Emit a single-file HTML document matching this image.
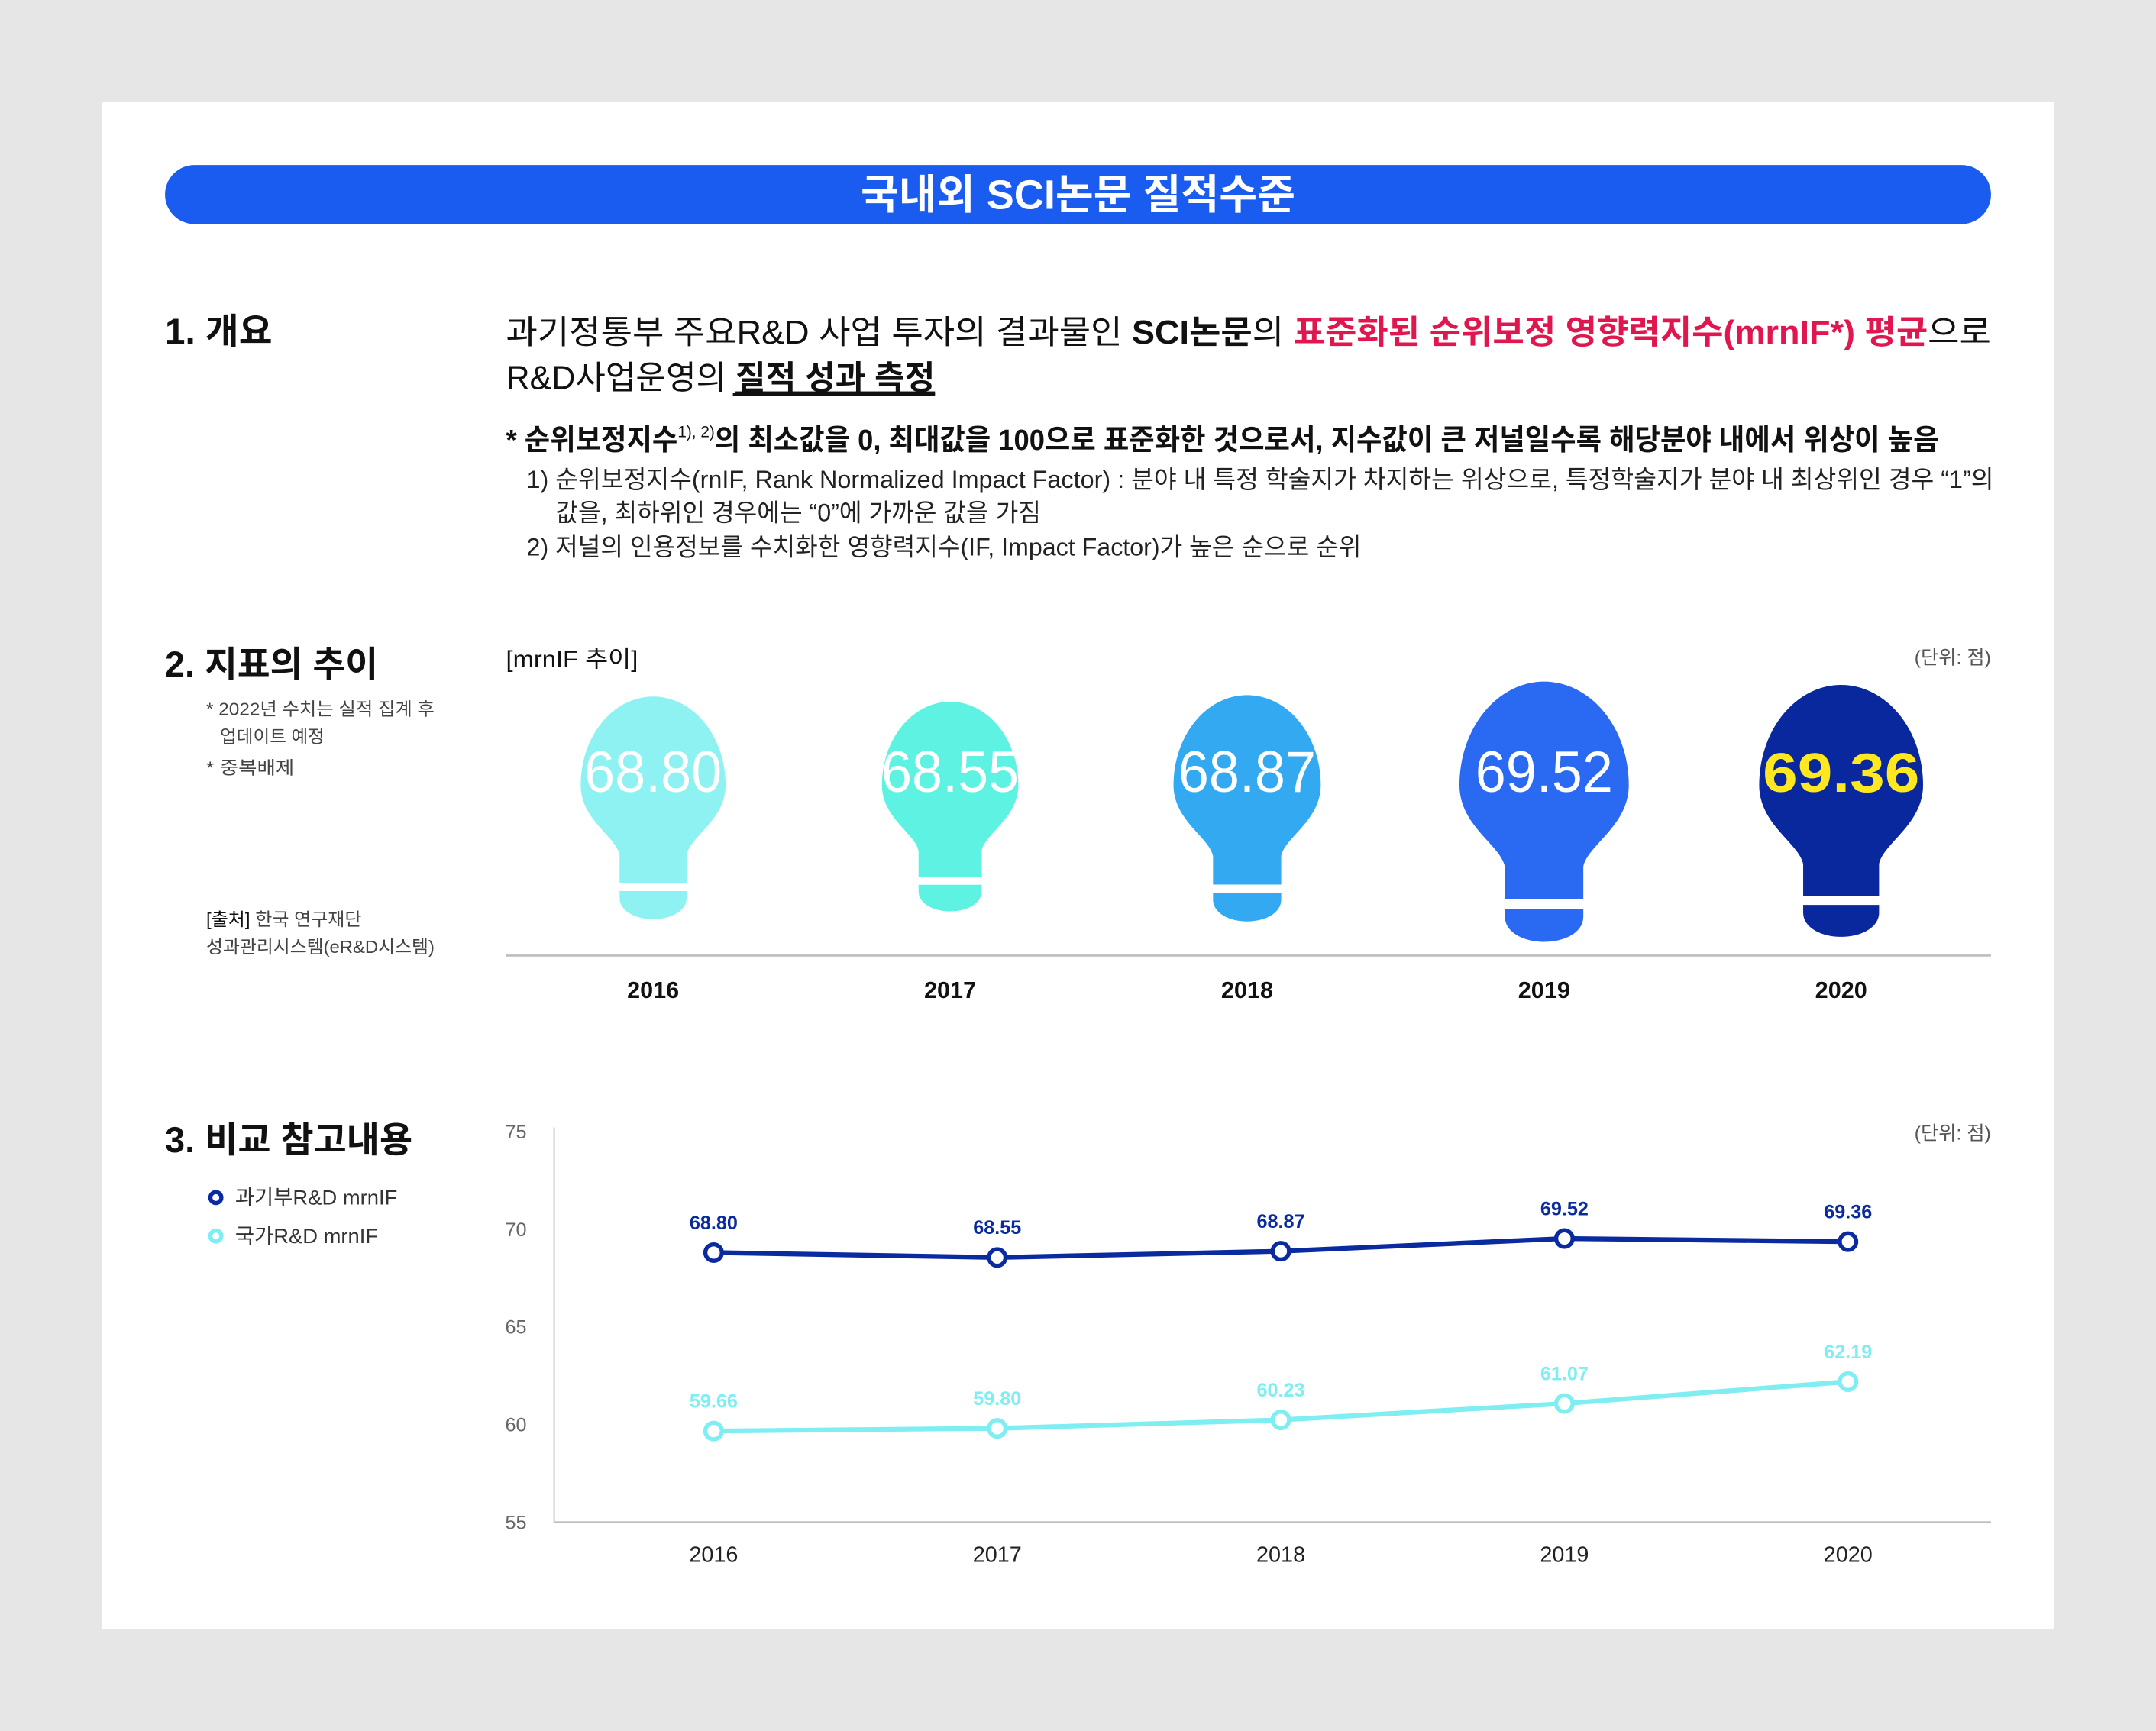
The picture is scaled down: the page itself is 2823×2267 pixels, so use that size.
<!DOCTYPE html>
<html><head><meta charset="utf-8">
<style>
html,body{margin:0;padding:0;background:#e6e6e6;}
body{width:2823px;height:2267px;overflow:hidden;}
svg{display:block;font-family:"Liberation Sans","Noto Sans CJK KR",sans-serif;}
</style></head>
<body>
<svg id="page" width="2823" height="2267" viewBox="0 0 1568 1259" preserveAspectRatio="none" xmlns="http://www.w3.org/2000/svg">
<rect x="0" y="0" width="1568" height="1259" fill="#e6e6e6"/>
<rect x="74" y="74" width="1420" height="1111" fill="#ffffff"/>
<rect x="120" y="120" width="1328" height="43" rx="21.5" fill="#1b5cf0"/>
<text x="784" y="152" text-anchor="middle" font-size="30" font-weight="bold" fill="#fff" textLength="316" lengthAdjust="spacingAndGlyphs">국내외 SCI논문 질적수준</text>

<text x="120" y="250" font-size="26" font-weight="bold" fill="#111" textLength="78" lengthAdjust="spacingAndGlyphs">1. 개요</text>
<text x="368" y="250" font-size="24" fill="#111" textLength="1080" lengthAdjust="spacingAndGlyphs">과기정통부 주요R&amp;D 사업 투자의 결과물인 <tspan font-weight="bold">SCI논문</tspan>의 <tspan font-weight="bold" fill="#e0174f">표준화된 순위보정 영향력지수(mrnIF*) 평균</tspan>으로</text>
<text x="368" y="283" font-size="24" fill="#111" textLength="312" lengthAdjust="spacingAndGlyphs">R&amp;D사업운영의 <tspan font-weight="bold" text-decoration="underline">질적 성과 측정</tspan></text>
<line x1="533" y1="287" x2="680" y2="287" stroke="#111" stroke-width="2"/>
<text x="368" y="327" font-size="21" font-weight="bold" fill="#111" textLength="1042" lengthAdjust="spacingAndGlyphs">* 순위보정지수<tspan font-size="12" dy="-9" font-weight="normal">1), 2)</tspan><tspan dy="9">의 최소값을 0, 최대값을 100으로 표준화한 것으로서, 지수값이 큰 저널일수록 해당분야 내에서 위상이 높음</tspan></text>
<text x="383" y="355" font-size="18" fill="#222" textLength="1067" lengthAdjust="spacingAndGlyphs">1) 순위보정지수(rnIF, Rank Normalized Impact Factor) : 분야 내 특정 학술지가 차지하는 위상으로, 특정학술지가 분야 내 최상위인 경우 “1”의</text>
<text x="404" y="379" font-size="18" fill="#222" textLength="353" lengthAdjust="spacingAndGlyphs">값을, 최하위인 경우에는 “0”에 가까운 값을 가짐</text>
<text x="383" y="404" font-size="18" fill="#222" textLength="607" lengthAdjust="spacingAndGlyphs">2) 저널의 인용정보를 수치화한 영향력지수(IF, Impact Factor)가 높은 순으로 순위</text>

<text x="120" y="492" font-size="26" font-weight="bold" fill="#111" textLength="155" lengthAdjust="spacingAndGlyphs">2. 지표의 추이</text>
<text x="150" y="520" font-size="13" fill="#444" textLength="166" lengthAdjust="spacingAndGlyphs">* 2022년 수치는 실적 집계 후</text>
<text x="160" y="540" font-size="13" fill="#444" textLength="76" lengthAdjust="spacingAndGlyphs">업데이트 예정</text>
<text x="150" y="563" font-size="13" fill="#444" textLength="64" lengthAdjust="spacingAndGlyphs">* 중복배제</text>
<text x="150" y="673" font-size="13" fill="#444" textLength="113" lengthAdjust="spacingAndGlyphs"><tspan fill="#111">[출처]</tspan> 한국 연구재단</text>
<text x="150" y="693" font-size="13" fill="#444" textLength="166" lengthAdjust="spacingAndGlyphs">성과관리시스템(eR&amp;D시스템)</text>
<text x="368" y="485" font-size="17" fill="#111" textLength="96" lengthAdjust="spacingAndGlyphs">[mrnIF 추이]</text>
<text x="1448" y="483" text-anchor="end" font-size="14" fill="#555">(단위: 점)</text>
<line x1="368" y1="695" x2="1448" y2="695" stroke="#bdbdbd" stroke-width="1.5"/>
<g id="bulbs"></g>

<text x="120" y="838" font-size="26" font-weight="bold" fill="#111" textLength="180" lengthAdjust="spacingAndGlyphs">3. 비교 참고내용</text>
<g>
<circle cx="157" cy="871" r="4" fill="#fff" stroke="#0a2aa0" stroke-width="3"/>
<text x="171" y="876" font-size="15" fill="#333" textLength="118" lengthAdjust="spacingAndGlyphs">과기부R&amp;D mrnIF</text>
<circle cx="157" cy="899" r="4" fill="#fff" stroke="#7eeef2" stroke-width="3"/>
<text x="171" y="904" font-size="15" fill="#333" textLength="104" lengthAdjust="spacingAndGlyphs">국가R&amp;D mrnIF</text>
</g>
<text x="1448" y="829" text-anchor="end" font-size="14" fill="#555">(단위: 점)</text>
<g id="linechart"></g>
</svg>
<script>
const years = ["2016","2017","2018","2019","2020"];
const bulbValues = [68.80, 68.55, 68.87, 69.52, 69.36];
const bulbLabels = ["68.80","68.55","68.87","69.52","69.36"];
const msitValues = [68.80, 68.55, 68.87, 69.52, 69.36];
const msitLabels = ["68.80","68.55","68.87","69.52","69.36"];
const nationalValues = [59.66, 59.80, 60.23, 61.07, 62.19];
const nationalLabels = ["59.66","59.80","60.23","61.07","62.19"];
const yTicks = [55, 60, 65, 70, 75];

const NS = "http://www.w3.org/2000/svg";
function mk(tag, attrs, parent){const e=document.createElementNS(NS,tag);for(const k in attrs)e.setAttribute(k,attrs[k]);parent.appendChild(e);return e;}

// Bulb chart
const bulbColors = ["#8ef2f3","#5ef2e3","#33a9f1","#2a69f1","#0a289e"];
const bulbG = document.getElementById("bulbs");
function bulbX(i){return 475 + i*216;}
function bulbH(v){return 145 + (v-68.4)/1.2*45;}
const anchorY = 571;
years.forEach((yr,i)=>{
  const H = bulbH(bulbValues[i]);
  const ky = H/164, kx = ky;
  const g = mk("g",{transform:`translate(${bulbX(i)},${anchorY}) scale(${kx},${ky}) translate(0,-66)`},bulbG);
  
  
  const up = mk("path",{d:"M -54,66 A 54 66 0 0 1 54,66 C 54,92 28,104 25,118 L 25,139 L -25,139 L -25,118 C -28,104 -54,92 -54,66 Z",fill:bulbColors[i]},g);
  
  
  const base = mk("path",{d:"M -25,145 L 25,145 L 25,150 C 25,160 13,166 0,166 C -13,166 -25,160 -25,150 Z",fill:bulbColors[i]},g);
  
  
  const last = i===years.length-1;
  const t = mk("text",{x:bulbX(i),y:anchorY+5,"text-anchor":"middle","font-size":last?40:42,"font-weight":last?"bold":"normal",fill:last?"#ffe81f":"#ffffff",textLength:last?114:100,lengthAdjust:"spacingAndGlyphs"},bulbG);
  
  
  t.textContent = bulbLabels[i];
  const yl = mk("text",{x:bulbX(i),y:726,"text-anchor":"middle","font-size":17,"font-weight":"bold",fill:"#111"},bulbG);
  
  
  yl.textContent = yr;
});

// Line chart
const lc = document.getElementById("linechart");
function xPos(i){return 519 + i*206.25;}
function yPos(v){return 1107 - (v-55)*14.2;}
const ax = mk("line",{x1:403,y1:820,x2:403,y2:1107,stroke:"#bbb","stroke-width":1},lc);


const bx = mk("line",{x1:403,y1:1107,x2:1448,y2:1107,stroke:"#bbb","stroke-width":1},lc);


yTicks.forEach(v=>{
  const t = mk("text",{x:383,y:yPos(v)+5,"text-anchor":"end","font-size":14,fill:"#666"},lc);
  
  
  t.textContent = v;
});
years.forEach((yr,i)=>{
  const t = mk("text",{x:xPos(i),y:1136,"text-anchor":"middle","font-size":16,fill:"#222"},lc);
  
  
  t.textContent = yr;
});
function series(vals, labels, color, name){
  const pts = vals.map((v,i)=>xPos(i)+","+yPos(v)).join(" ");
  const pl = mk("polyline",{points:pts,fill:"none",stroke:color,"stroke-width":3.5},lc);
  
  
  vals.forEach((v,i)=>{
    const c = mk("circle",{cx:xPos(i),cy:yPos(v),r:6,fill:"#fff",stroke:color,"stroke-width":3},lc);
    
    
    const t = mk("text",{x:xPos(i),y:yPos(v)-17,"text-anchor":"middle","font-size":14,"font-weight":"bold",fill:color},lc);
    
    
    t.textContent = labels[i];
  });
}
series(nationalValues, nationalLabels, "#7eeef2", "national-rd");
series(msitValues, msitLabels, "#0a2aa0", "msit-rd");
</script>
</body></html>
